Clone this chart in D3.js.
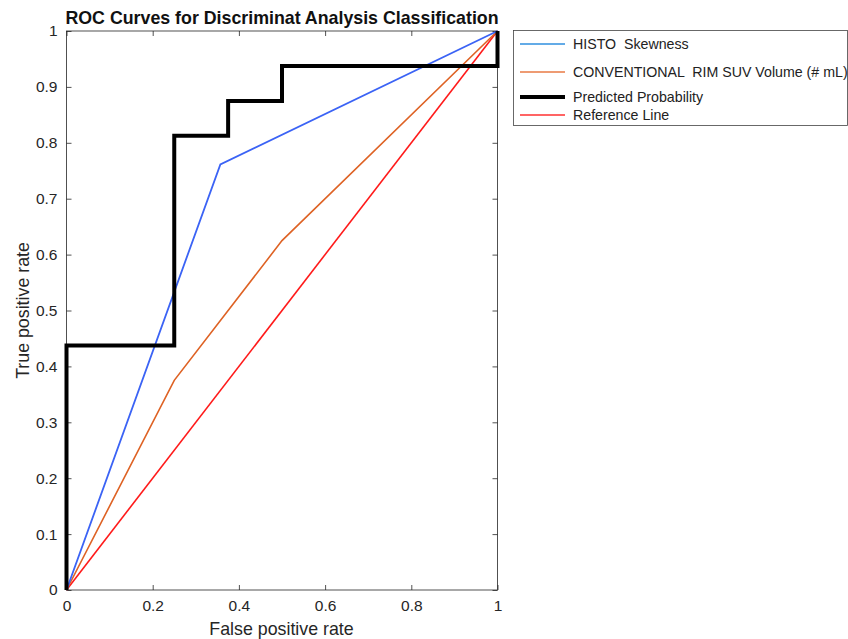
<!DOCTYPE html>
<html>
<head>
<meta charset="utf-8">
<script src="https://cdn.jsdelivr.net/npm/d3@7"></script>
<style>
  body { margin: 0; background: #fff; }
  text { font-family: "Liberation Sans", Arial, Helvetica, sans-serif; }
</style>
</head>
<body>
<svg id="svg" width="848" height="639"></svg>
<script>
// ROC curve points [false positive rate, true positive rate]
const histoSkewness = [[0, 0], [0.357, 0.7615], [1, 1]]
const conventionalRim = [[0, 0], [0.25, 0.375], [0.5, 0.625], [1, 1]]
const predictedProbability = [
  [0, 0], [0, 0.4375], [0.25, 0.4375], [0.25, 0.8125], [0.375, 0.8125],
  [0.375, 0.875], [0.5, 0.875], [0.5, 0.9375], [1, 0.9375], [1, 1]
]
const referenceLine = [[0, 0], [1, 1]]

const xTicks = [0, 0.2, 0.4, 0.6, 0.8, 1]
const yTicks = [0, 0.1, 0.2, 0.3, 0.4, 0.5, 0.6, 0.7, 0.8, 0.9, 1]

const seriesNames = ['HISTO  Skewness', 'CONVENTIONAL  RIM SUV Volume (# mL)', 'Predicted Probability', 'Reference Line']

const margin = { left: 66.5, top: 31, right: 497.5, bottom: 590 }
const svg = d3.select('#svg')

const x = d3.scaleLinear().domain([0, 1]).range([margin.left, margin.right])
const y = d3.scaleLinear().domain([0, 1]).range([margin.bottom, margin.top])

const axisColor = '#262626'

// box
svg.append('rect')
  .attr('x', margin.left)
  .attr('y', margin.top)
  .attr('width', margin.right - margin.left)
  .attr('height', margin.bottom - margin.top)
  .attr('fill', 'none')
  .attr('stroke', axisColor)
  .attr('stroke-width', 0.8)

// axes, ticks inward
const xAxis = svg.append('g')
  .attr('transform', `translate(0, ${margin.bottom})`)
  .call(d3.axisBottom(x).tickValues(xTicks).tickSizeInner(-5).tickSizeOuter(0).tickPadding(10).tickFormat(d3.format('~g')))
const xAxisTop = svg.append('g')
  .attr('transform', `translate(0, ${margin.top})`)
  .call(d3.axisTop(x).tickValues(xTicks).tickSizeInner(-5).tickSizeOuter(0).tickFormat(''))
const yAxis = svg.append('g')
  .attr('transform', `translate(${margin.left}, 0)`)
  .call(d3.axisLeft(y).tickValues(yTicks).tickSizeInner(-5).tickSizeOuter(0).tickPadding(9).tickFormat(d3.format('~g')))
const yAxisRight = svg.append('g')
  .attr('transform', `translate(${margin.right}, 0)`)
  .call(d3.axisRight(y).tickValues(yTicks).tickSizeInner(-5).tickSizeOuter(0).tickFormat(''))

for (const ax of [xAxis, xAxisTop, yAxis, yAxisRight]) {
  ax.select('.domain').remove()
  ax.selectAll('line').attr('stroke', axisColor).attr('stroke-width', 0.8)
  ax.selectAll('text').attr('fill', axisColor).style('font-size', '15.5px')
}

// lines
const line = d3.line().x(d => x(d[0])).y(d => y(d[1]))

const plotted = [
  { data: referenceLine, color: '#ff1a1a', width: 1.6 },
  { data: conventionalRim, color: '#de6224', width: 1.6 },
  { data: histoSkewness, color: '#3b63f5', width: 1.8 },
  { data: predictedProbability, color: '#000000', width: 4 }
]

svg.selectAll('path.curve')
  .data(plotted)
  .enter()
  .append('path')
  .attr('class', 'curve')
  .attr('d', d => line(d.data))
  .attr('fill', 'none')
  .attr('stroke', d => d.color)
  .attr('stroke-width', d => d.width)
  .attr('stroke-linejoin', 'miter')

// title and labels
svg.append('text')
  .attr('x', (margin.left + margin.right) / 2)
  .attr('y', 24)
  .attr('text-anchor', 'middle')
  .style('font-size', '17.8px')
  .style('font-weight', 'bold')
  .attr('fill', '#111')
  .text('ROC Curves for Discriminat Analysis Classification')

svg.append('text')
  .attr('x', (margin.left + margin.right) / 2 - 0.5)
  .attr('y', 635)
  .attr('text-anchor', 'middle')
  .style('font-size', '17.8px')
  .attr('fill', axisColor)
  .text('False positive rate')

svg.append('text')
  .attr('transform', `translate(29, ${(margin.top + margin.bottom) / 2}) rotate(-90)`)
  .attr('text-anchor', 'middle')
  .style('font-size', '17.8px')
  .attr('fill', axisColor)
  .text('True positive rate')

// L E G E N D
const legendColors = ['#2f8fdf', '#e87a45', '#000000', '#ff3030']
const legendWidths = [1.6, 1.6, 4, 1.6]
const legendRows = [44, 72, 97, 115]

const legend = svg.append('g').attr('id', 'legend')
legend.append('rect')
  .attr('x', 513.5)
  .attr('y', 30.5)
  .attr('width', 334)
  .attr('height', 95)
  .attr('fill', '#fff')
  .attr('stroke', '#444')
  .attr('stroke-width', 0.8)

legend.selectAll('line')
  .data(seriesNames)
  .enter()
  .append('line')
  .attr('x1', 520)
  .attr('x2', 565)
  .attr('y1', (d, i) => legendRows[i])
  .attr('y2', (d, i) => legendRows[i])
  .attr('stroke', (d, i) => legendColors[i])
  .attr('stroke-width', (d, i) => legendWidths[i])

legend.selectAll('text')
  .data(seriesNames)
  .enter()
  .append('text')
  .attr('x', 573)
  .attr('y', (d, i) => legendRows[i] + 5)
  .style('font-size', '14.2px')
  .style('white-space', 'pre')
  .attr('fill', '#222')
  .text(d => d)
</script>
</body>
</html>
